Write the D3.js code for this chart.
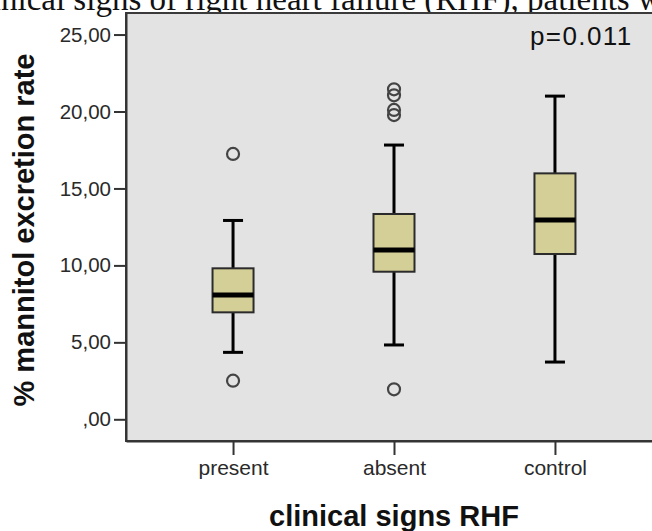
<!DOCTYPE html>
<html lang="en">
<head>
<meta charset="utf-8">
<title>mannitol excretion boxplot</title>
<style>
html,body {padding:0; margin:0; background:#fff;}
svg {display:block;}
text {font-family:"Liberation Sans", Arial, sans-serif;}
</style>
<script src="https://d3js.org/d3.v7.min.js"></script>
</head>
<body>
<script>
// values
let categories = ['present', 'absent', 'control']
let whiskerLow = [4.35, 4.83, 3.72]
let q1 = [6.95, 9.59, 10.74]
let median = [8.08, 11.0, 12.95]
let q3 = [9.81, 13.34, 15.98]
let whiskerHigh = [12.92, 17.82, 21.0]
let outliers = [[17.24, 2.51], [21.44, 21.05, 20.1, 19.77, 1.95], []]
let yTicks = [0, 5, 10, 15, 20, 25]
let pText = 'p=0.011'

let width = 652
let height = 531
let plot = {left: 126, right: 662, top: 13, bottom: 441}

let svg = d3.select('body').append('svg')
            .attr('width', width)
            .attr('height', height)

// cut-off caption line above the chart
svg.append('text')
   .attr('x', -32)
   .attr('y', 10)
   .style('font-family', '"Liberation Serif", "Times New Roman", serif')
   .style('font-size', '33px')
   .attr('fill', '#111')
   .text('clinical signs of right heart failure (RHF), patients with')

let x = d3.scalePoint().domain(categories).range([plot.left, plot.right]).padding(0.665)
let y = d3.scaleLinear().domain([-1.41, 26.4]).range([plot.bottom, plot.top])

svg.append('rect')
   .attr('x', plot.left)
   .attr('y', plot.top)
   .attr('width', plot.right - plot.left)
   .attr('height', plot.bottom - plot.top)
   .attr('fill', '#e3e3e3')
   .attr('stroke', '#3a3a3a')
   .attr('stroke-width', 2)

let fmt = function(v) { return v === 0 ? ',00' : v.toFixed(2).replace('.', ',') }

let yAxis = svg.append('g')
               .attr('transform', `translate(${plot.left},0)`)
               .call(d3.axisLeft(y).tickValues(yTicks).tickFormat(fmt).tickSize(12).tickSizeOuter(0).tickPadding(3))
yAxis.select('.domain').attr('stroke', '#333').attr('stroke-width', 2)
yAxis.selectAll('.tick line').attr('stroke', '#333').attr('stroke-width', 2)
yAxis.selectAll('.tick text')
     .style('font-size', '20.5px')
     .attr('fill', '#2a2a2a')

let xAxis = svg.append('g')
               .attr('transform', `translate(0,${plot.bottom})`)
               .call(d3.axisBottom(x).tickSize(14).tickSizeOuter(0).tickPadding(5))
xAxis.select('.domain').attr('stroke', '#333').attr('stroke-width', 2)
xAxis.selectAll('.tick line').attr('stroke', '#333').attr('stroke-width', 2)
xAxis.selectAll('.tick text')
     .style('font-size', '21px')
     .attr('fill', '#2a2a2a')

let boxW = 41
let capW = 20
let g = svg.append('g')

categories.forEach(function(c, i) {
  let cx = x(c)
  g.append('line')
   .attr('x1', cx).attr('x2', cx)
   .attr('y1', y(whiskerHigh[i])).attr('y2', y(q3[i]))
   .attr('stroke', '#000').attr('stroke-width', 3)
  g.append('line')
   .attr('x1', cx).attr('x2', cx)
   .attr('y1', y(q1[i])).attr('y2', y(whiskerLow[i]))
   .attr('stroke', '#000').attr('stroke-width', 3)
  ;[whiskerHigh[i], whiskerLow[i]].forEach(function(v) {
    g.append('line')
     .attr('x1', cx - capW / 2).attr('x2', cx + capW / 2)
     .attr('y1', y(v)).attr('y2', y(v))
     .attr('stroke', '#000').attr('stroke-width', 3)
  })
  g.append('rect')
   .attr('x', cx - boxW / 2)
   .attr('y', y(q3[i]))
   .attr('width', boxW)
   .attr('height', y(q1[i]) - y(q3[i]))
   .attr('fill', '#d4cf97')
   .attr('stroke', '#2b2b2b')
   .attr('stroke-width', 2)
  g.append('line')
   .attr('x1', cx - boxW / 2).attr('x2', cx + boxW / 2)
   .attr('y1', y(median[i])).attr('y2', y(median[i]))
   .attr('stroke', '#000').attr('stroke-width', 5)
  outliers[i].forEach(function(v) {
    g.append('circle')
     .attr('cx', cx).attr('cy', y(v)).attr('r', 6)
     .attr('fill', 'none')
     .attr('stroke', '#444').attr('stroke-width', 2.2)
  })
})

svg.append('text')
   .attr('x', 530)
   .attr('y', 45)
   .style('font-size', '26px')
   .style('letter-spacing', '1.4px')
   .attr('fill', '#111')
   .text(pText)

svg.append('text')
   .attr('transform', `translate(34,230) rotate(-90)`)
   .attr('text-anchor', 'middle')
   .style('font-size', '29px')
   .style('font-weight', 'bold')
   .attr('fill', '#111')
   .text('% mannitol excretion rate')

svg.append('text')
   .attr('x', 394)
   .attr('y', 526)
   .attr('text-anchor', 'middle')
   .style('font-size', '29px')
   .style('font-weight', 'bold')
   .attr('fill', '#111')
   .text('clinical signs RHF')
</script>
</body>
</html>
